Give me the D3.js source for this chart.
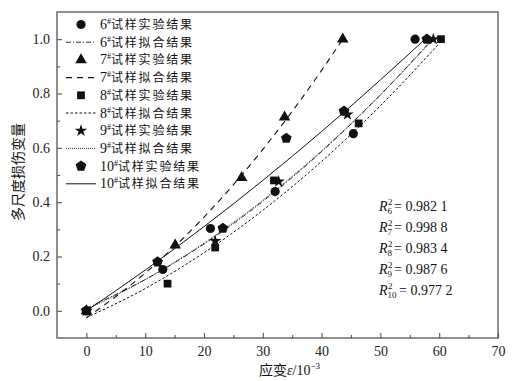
<!DOCTYPE html>
<html><head><meta charset="utf-8">
<script src="https://cdn.jsdelivr.net/npm/d3@7"></script>
<style>
html,body{margin:0;padding:0;background:#fff;}
svg{display:block;}
.serif{font-family:"Liberation Serif","Times New Roman",serif;}
.cjk{font-family:"Noto Sans CJK SC",sans-serif;}
</style></head>
<body><svg id="c" width="519" height="381"></svg>
<script>
// ---- data ----
const xTicks = [0,10,20,30,40,50,60,70];
const xMinor = [5,15,25,35,45,55,65];
const yTicks = [0,0.2,0.4,0.6,0.8,1.0];
const yMinor = [0.1,0.3,0.5,0.7,0.9];

const exp6 = [[0,0],[13.0,0.152],[21.1,0.303],[32.1,0.439],[45.4,0.652],[55.9,1.0]];
const exp7 = [[0,0],[15.1,0.242],[26.4,0.49],[33.7,0.713],[43.6,1.0]];
const exp8 = [[0,0],[13.8,0.10],[21.9,0.233],[31.9,0.48],[46.3,0.69],[60.3,1.0]];
const exp9 = [[0,0],[21.9,0.257],[32.7,0.476],[44.4,0.723],[59.0,1.0]];
const exp10 = [[0,0],[12.1,0.18],[23.2,0.304],[34.0,0.635],[43.8,0.735],[57.9,1.0]];

const fit6 = [[0,0.01],[10,0.115],[20,0.246],[30,0.403],[40,0.586],[50,0.795],[58,0.98]];
const fit7 = [[0,-0.026],[10,0.139],[20,0.345],[30,0.594],[40,0.885],[43.6,1.0]];
const fit8 = [[0,-0.025],[10,0.082],[20,0.214],[30,0.37],[40,0.55],[50,0.755],[60,0.984]];
const fit9 = [[0,0.005],[10,0.115],[20,0.249],[30,0.407],[40,0.589],[50,0.795],[59,1.0]];
const fit10 = [[0,0],[10,0.15],[20,0.31],[30,0.48],[40,0.66],[50,0.85],[57.6,1.0]];

const ids = ["6","7","8","9","10"];
const r2Values = ["0.982 1","0.998 8","0.983 4","0.987 6","0.977 2"];

// ---- layout ----
const svg = d3.select("#c");
const L=57,R=498,T=12,B=338;
const x = d3.scaleLinear().domain([-5,70]).range([L,R]);
const y = d3.scaleLinear().domain([-0.1,1.1]).range([B,T]);
const ink = "#111", axisCol = "#555";

// axes
const gx = svg.append("g").attr("transform",`translate(0,${B})`)
  .call(d3.axisBottom(x).tickValues(xTicks).tickSize(-5).tickPadding(8).tickFormat(d3.format("d")));
const gxm = svg.append("g").attr("transform",`translate(0,${B})`)
  .call(d3.axisBottom(x).tickValues(xMinor).tickSize(-3).tickFormat(""));
const gy = svg.append("g").attr("transform",`translate(${L},0)`)
  .call(d3.axisLeft(y).tickValues(yTicks).tickSize(-5).tickPadding(7).tickFormat(d3.format(".1f")));
const gym = svg.append("g").attr("transform",`translate(${L},0)`)
  .call(d3.axisLeft(y).tickValues(yMinor).tickSize(-3).tickFormat(""));
[gx,gxm,gy,gym].forEach(g=>{
  g.select(".domain").remove();
  g.selectAll("line").attr("stroke",axisCol).attr("stroke-width",1.1);
  g.selectAll("text").attr("class","serif").style("font-size","14px").attr("fill","#222");
});
svg.append("rect").attr("x",L).attr("y",T).attr("width",R-L).attr("height",B-T)
  .attr("fill","none").attr("stroke",axisCol).attr("stroke-width",1.3);

// fit lines
const line = d3.line().x(d=>x(d[0])).y(d=>y(d[1])).curve(d3.curveMonotoneX);
const fits = [
  {d:fit6, dash:"5,2,1,2", w:0.9},
  {d:fit7, dash:"6,5", w:1.1},
  {d:fit8, dash:"2.5,2", w:1.0},
  {d:fit9, dash:"1,1", w:0.9},
  {d:fit10, dash:null, w:1.0}
];
fits.forEach(f=>{
  svg.append("path").attr("d",line(f.d)).attr("fill","none").attr("stroke",ink)
    .attr("stroke-width",f.w).attr("stroke-dasharray",f.dash);
});

// markers
function pentagon(r){
  const pts=d3.range(5).map(i=>{const a=-Math.PI/2+i*2*Math.PI/5;return [r*Math.cos(a),r*Math.sin(a)];});
  return d3.line()(pts)+"Z";
}
const shapes = [
  d3.symbol(d3.symbolCircle,66)(),
  d3.symbol(d3.symbolTriangle,58)(),
  d3.symbol(d3.symbolSquare,60)(),
  d3.symbol(d3.symbolStar,48)(),
  pentagon(5.6)
];
const exps=[exp6,exp7,exp8,exp9,exp10];
exps.forEach((e,i)=>{
  svg.append("g").selectAll("path").data(e).join("path")
    .attr("d",shapes[i]).attr("fill",ink)
    .attr("transform",d=>`translate(${x(d[0])},${y(d[1])})`);
});

// legend
const legY0=24.5, legStep=17.7;
for(let i=0;i<5;i++){
  for(let k=0;k<2;k++){
    const yy = legY0 + (i*2+k)*legStep;
    if(k===0){
      svg.append("path").attr("d",shapes[i]).attr("fill",ink).attr("transform",`translate(81,${yy})`);
    } else {
      svg.append("line").attr("x1",66).attr("x2",96).attr("y1",yy).attr("y2",yy)
        .attr("stroke",ink).attr("stroke-width",fits[i].w).attr("stroke-dasharray",fits[i].dash);
    }
    const t = svg.append("text").attr("x",100).attr("y",yy+4.5).style("font-size","12px").attr("fill","#111");
    t.append("tspan").attr("class","serif").style("font-size","14px").text(ids[i]);
    t.append("tspan").attr("class","serif").attr("dy",-5).style("font-size","8px").text("#");
    t.append("tspan").attr("class","cjk").attr("dy",5).style("letter-spacing","1.8px").text(k===0?"试样实验结果":"试样拟合结果");
  }
}

// R² annotations
const rY0=206, rStep=21;
ids.forEach((id,i)=>{
  const yy=rY0+i*rStep+5;
  const g=svg.append("g").attr("class","serif").attr("fill","#111");
  g.append("text").attr("x",379).attr("y",yy).style("font-size","14px").style("font-style","italic").text("R");
  g.append("text").attr("x",388).attr("y",yy-6).style("font-size","9px").text("2");
  g.append("text").attr("x",387.5).attr("y",yy+3).style("font-size","9px").text(id);
  g.append("text").attr("x",id.length>1?399:394).attr("y",yy).style("font-size","14px").text("= "+r2Values[i]);
});

// axis titles
const xt = svg.append("text").attr("x",259).attr("y",375).style("font-size","14px").attr("fill","#111");
xt.append("tspan").attr("class","cjk").text("应变");
xt.append("tspan").attr("class","serif").style("font-style","italic").text("ε");
xt.append("tspan").attr("class","serif").text("/10");
xt.append("tspan").attr("class","serif").attr("dy",-6).style("font-size","9px").text("−3");

svg.append("text").attr("class","cjk").attr("transform","translate(23,172) rotate(-90)")
  .attr("text-anchor","middle").style("font-size","14px").attr("fill","#111").text("多尺度损伤变量");
</script>
</body></html>
